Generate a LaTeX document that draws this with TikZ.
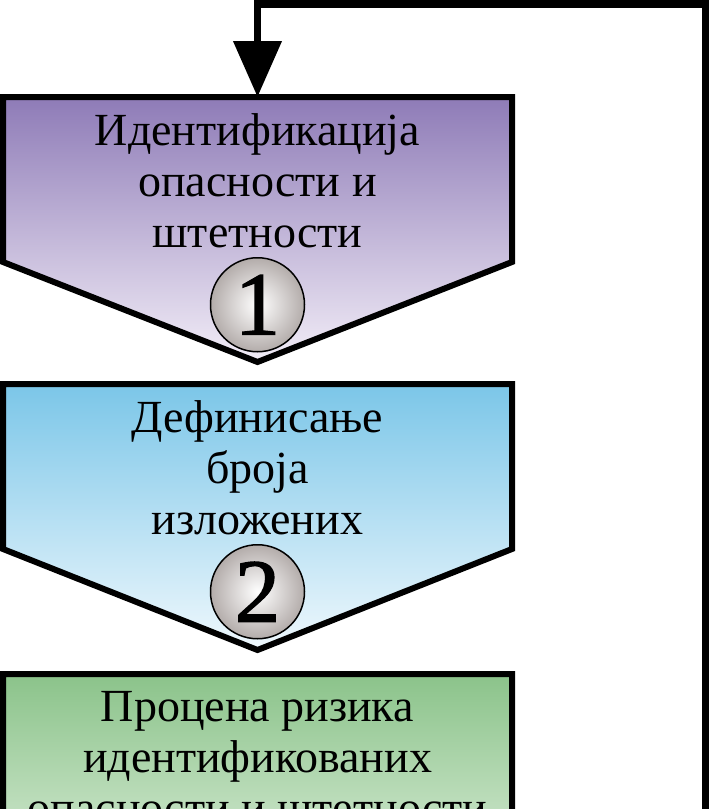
\documentclass[tikz,border=0pt]{standalone}
\usepackage{fontspec}
\setmainfont{Liberation Serif}
\newfontfamily\badgefont[FakeBold=1.6]{Liberation Serif}
\usetikzlibrary{arrows.meta, positioning, calc}
\definecolor{violettop}{HTML}{8E7BB7}
\definecolor{violetbot}{HTML}{F2EDF7}
\definecolor{bluetop}{HTML}{7BC6E8}
\definecolor{bluebot}{HTML}{EFF8FD}
\definecolor{greentop}{HTML}{8BC38A}
\definecolor{greenbot}{HTML}{F0F8EE}
\definecolor{badgeedge}{HTML}{B3ACAA}

\begin{document}
\begin{tikzpicture}[x=1pt, y=1pt,
    stepbox/.style={
        rectangle, minimum width=509pt, minimum height=165pt,
        inner sep=0pt, outer sep=0pt,
    },
    stepshape/.style={draw=black, line width=6pt, line join=miter},
    steptext/.style={
        anchor=north, align=center, inner sep=0pt,
        font=\fontsize{46}{51}\selectfont,
    },
    badge/.style={
        circle, draw=black, line width=1.5pt, minimum size=94pt, inner sep=0pt,
        inner color=white, outer color=badgeedge,
        font=\fontsize{90}{90}\badgefont,
    },
    flow/.style={draw=black, line width=7.5pt, -{Triangle[length=56pt, width=47pt]}},
]
\useasboundingbox (0,0) rectangle (709,-809);
\clip (0,0) rectangle (709,-809);

% Step boxes (rectangular part, the point is added below)
\node[stepbox] (b1) at (257.5,-179.5) {};
\node[stepbox] (b2) at (257.5,-466.5) {};
\node[stepbox] (b3) at (257.5,-756.5) {};

\shade[stepshape, top color=violettop, bottom color=violetbot]
    (b1.north west) -- (b1.north east) -- (b1.south east)
    -- ($(b1.south)+(0,-100)$) -- (b1.south west) -- cycle;
\shade[stepshape, top color=bluetop, bottom color=bluebot]
    (b2.north west) -- (b2.north east) -- (b2.south east)
    -- ($(b2.south)+(0,-101)$) -- (b2.south west) -- cycle;
\shade[stepshape, top color=greentop, bottom color=greenbot]
    (b3.north west) -- (b3.north east) -- (b3.south east)
    -- ($(b3.south)+(0,-101)$) -- (b3.south west) -- cycle;

% Labels
\node[steptext, below=16pt of b1.north] (t1) {Идентификација\\опасности и\\штетности};
\node[steptext, below=16pt of b2.north] (t2) {Дефинисање\\броја\\изложених};
\node[steptext, below=17pt of b3.north] (t3) {Процена ризика\\идентификованих\\опасности и штетности};

% Step numbers
\node[badge, below=-5pt of b1.south] (n1) {1};
\node[badge, below=-5pt of b2.south] (n2) {2};

% Feedback loop
\coordinate (ret) at (705.25,-820);
\coordinate (bend) at (705.25,-3.75);
\draw[flow] (ret) -- (bend) -| (b1.north);

\end{tikzpicture}
\end{document}
